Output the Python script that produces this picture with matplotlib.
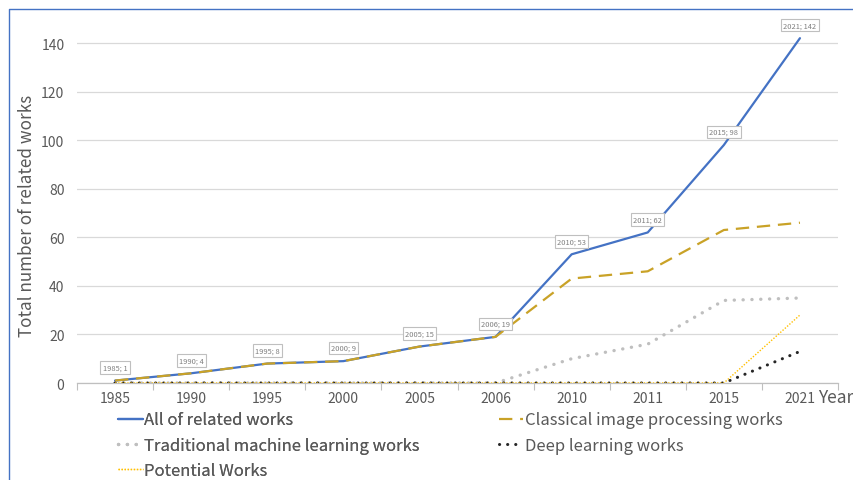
import matplotlib
matplotlib.use("Agg")
import matplotlib.pyplot as plt
from matplotlib.lines import Line2D

years = ["1985", "1990", "1995", "2000", "2005", "2006", "2010", "2011", "2015", "2021"]
all_works = [1, 4, 8, 9, 15, 19, 53, 62, 98, 142]
classical = [1, 4, 8, 9, 15, 19, 43, 46, 63, 66]
traditional_ml = [0, 0, 0, 0, 0, 0, 10, 16, 34, 35]
deep_learning = [0, 0, 0, 0, 0, 0, 0, 0, 0, 13]
potential = [0, 0, 0, 0, 0, 0, 0, 0, 0, 28]
yticks = [0, 20, 40, 60, 80, 100, 120, 140]

plt.rcParams['font.family'] = ['Noto Sans CJK SC', 'DejaVu Sans']
plt.rcParams['font.weight'] = 'light'

W, H = 854, 481
fig = plt.figure(figsize=(W / 100, H / 100), dpi=100)
ax = fig.add_axes([77 / W, 1 - 384 / H, 761 / W, 359.4 / H])

x = list(range(len(years)))
c_blue = "#4472C4"
c_gold = "#C9A227"
c_gray = "#BFBFBF"
c_black = "#262626"
c_yel = "#FFC000"

l1, = ax.plot(x, all_works, color=c_blue, lw=1.6, solid_capstyle='round', zorder=3,
              label="All of related works")
l2, = ax.plot(x, classical, color=c_gold, lw=1.6, dashes=(6, 3.5), zorder=4,
              label="Classical image processing works")
l3, = ax.plot(x, traditional_ml, color=c_gray, lw=2.4, dashes=(0.05, 2.6),
              dash_capstyle='round', zorder=5, label="Traditional machine learning works")
l4, = ax.plot(x, deep_learning, color=c_black, lw=2.2, dashes=(0.05, 2.6),
              dash_capstyle='round', zorder=6, label="Deep learning works")
l5, = ax.plot(x, potential, color=c_yel, lw=1.0, dashes=(1, 1.2), zorder=7,
              label="Potential Works")

for xi, yr, v in zip(x, years, all_works):
    ax.annotate(f"{yr}; {v}", (xi, v), xytext=(0, 13), textcoords='offset pixels',
                ha='center', va='center', fontsize=5.4, color="#7F7F7F",
                bbox=dict(boxstyle='square,pad=0.3', fc='white', ec='#BFBFBF', lw=0.8),
                zorder=10, annotation_clip=False)

ax.set_xlim(-0.5, len(years) - 0.5)
ax.set_ylim(0, 148)
ax.set_yticks(yticks)
ax.set_xticks(x)
ax.set_xticklabels(years)
ax.set_xticks([i - 0.5 for i in range(len(years) + 1)], minor=True)
ax.tick_params(axis='x', which='major', length=0, pad=6, labelsize=10, labelcolor="#595959")
ax.tick_params(axis='x', which='minor', length=5, color="#BFBFBF", width=0.8)
ax.tick_params(axis='y', length=0, pad=9, labelsize=10, labelcolor="#595959")
ax.grid(axis='y', color="#D9D9D9", lw=0.9)
ax.set_axisbelow(True)
for s in ['top', 'right', 'left']:
    ax.spines[s].set_visible(False)
ax.spines['bottom'].set_color("#BFBFBF")
ax.spines['bottom'].set_linewidth(0.9)
ax.spines['bottom'].set_zorder(2)

fig.text(27 / W, 1 - 216 / H, "Total number of related works", rotation=90,
         ha='center', va='center', fontsize=12.3, color="#595959")
fig.text(818 / W, 1 - 398 / H, "Year", ha='left', va='center', fontsize=12.5, color="#595959")

leg_kw = dict(loc='upper left', frameon=False, fontsize=12, handlelength=1.45,
              handletextpad=0.12, labelspacing=0.5, labelcolor="#595959",
              borderaxespad=0, borderpad=0.2)
leg1 = fig.legend(handles=[l1, l3, l5], bbox_to_anchor=(115 / W, 1 - 409 / H), **leg_kw)
leg2 = fig.legend(handles=[l2, l4], bbox_to_anchor=(496 / W, 1 - 409 / H), **leg_kw)
fig.add_artist(leg1)

# chart border (top and left visible)
fig.add_artist(Line2D([9 / W, 9 / W, 1.0], [0, 1 - 10 / H, 1 - 10 / H], color="#4472C4", lw=1.0,
                      transform=fig.transFigure))

fig.savefig("out.png", dpi=100)
